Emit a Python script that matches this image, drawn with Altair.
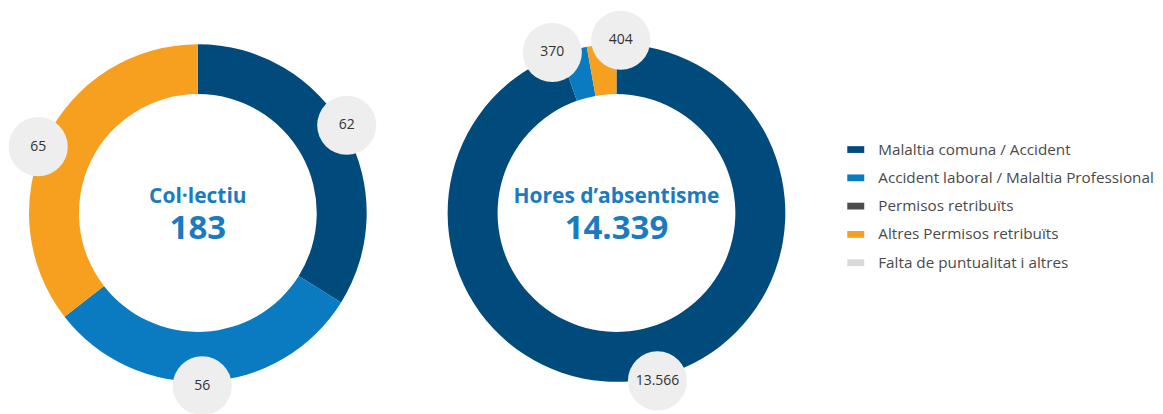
import altair as alt
import pandas as pd

# ---- data ----
categories = [
    "Malaltia comuna / Accident",
    "Accident laboral / Malaltia Professional",
    "Permisos retribuïts",
    "Altres Permisos retribuïts",
    "Falta de puntualitat i altres",
]
colors = ["#004a7c", "#0a7bc1", "#4d4d4d", "#f79f1f", "#d9d9d9"]

col_cats = ["Malaltia comuna / Accident", "Accident laboral / Malaltia Professional", "Altres Permisos retribuïts"]
col_values = [62, 56, 65]
col_labels = ["62", "56", "65"]

hores_cats = ["Malaltia comuna / Accident", "Accident laboral / Malaltia Professional", "Altres Permisos retribuïts"]
hores_values = [13566, 370, 404]
hores_labels = ["13.566", "370", "404"]

center_titles = ["Col·lectiu", "Hores d’absentisme"]
center_totals = ["183", "14.339"]

# ---- layout (pixels) ----
PANEL_W, PANEL_H = 380, 398
CX, CY = 190, 205
OUTER, INNER = 169, 119
LABEL_R = 173
# small angular nudges (degrees) so bubbles do not overlap
col_nudge = [-1.5, 1.5, -3.5]
hores_nudge = [-4.0, -7.0, 6.5]

FONT = "Open Sans"
BLUE_TXT = "#1a7bbf"


def donut(cats, values, labels, nudges, title, total):
    df = pd.DataFrame({
        "cat": cats,
        "value": values,
        "label": labels,
        "idx": list(range(len(cats))),
        "nudge": nudges,
    })
    base = alt.Chart(df)
    color = alt.Color(
        "cat:N",
        scale=alt.Scale(domain=categories, range=colors),
        title=None,
        legend=alt.Legend(
            orient="none",
            legendX=840,
            legendY=133,
            symbolType="M-1,-0.4L1,-0.4L1,0.4L-1,0.4Z",
            symbolSize=289,
            symbolStrokeWidth=0,
            labelFont=FONT,
            labelFontSize=15.3,
            labelColor="#4a4a4a",
            labelOffset=14,
            labelLimit=400,
            rowPadding=11.3,
            padding=0,
        ),
    )
    ring = base.mark_arc(outerRadius=OUTER, innerRadius=INNER, stroke=None).encode(
        theta=alt.Theta("value:Q", stack=True),
        color=color,
        order=alt.Order("idx:Q"),
        x=alt.value(CX),
        y=alt.value(CY),
    )
    pts = (
        base.transform_joinaggregate(total="sum(value)")
        .transform_window(cum="sum(value)", sort=[alt.SortField("idx")], frame=[None, 0])
        .transform_calculate(ang="(datum.cum - datum.value/2)/datum.total*2*PI + datum.nudge*PI/180")
        .transform_calculate(px=f"{LABEL_R}*sin(datum.ang)", py=f"{LABEL_R}*cos(datum.ang)")
    )
    xs = alt.X("px:Q", scale=alt.Scale(domain=[-CX, PANEL_W - CX], nice=False, zero=False), axis=None)
    ys = alt.Y("py:Q", scale=alt.Scale(domain=[CY - PANEL_H, CY], nice=False, zero=False), axis=None)
    bubbles = pts.mark_circle(size=3500, color="#eeeeee", opacity=1).encode(x=xs, y=ys)
    btext = pts.mark_text(font=FONT, fontSize=14, color="#333333").encode(x=xs, y=ys, text="label:N")

    cdf = pd.DataFrame({"title": [title], "total": [total]})
    cbase = alt.Chart(cdf)
    t1 = cbase.mark_text(font=FONT, fontSize=21, fontWeight="bold", color=BLUE_TXT, baseline="alphabetic").encode(
        text="title:N", x=alt.value(CX), y=alt.value(195)
    )
    t2 = cbase.mark_text(font=FONT, fontSize=33, fontWeight="bold", color=BLUE_TXT, baseline="alphabetic").encode(
        text="total:N", x=alt.value(CX), y=alt.value(231)
    )
    return alt.layer(ring, bubbles, btext, t1, t2).properties(width=PANEL_W, height=PANEL_H)


d1 = donut(col_cats, col_values, col_labels, col_nudge, center_titles[0], center_totals[0])
d2 = donut(hores_cats, hores_values, hores_labels, hores_nudge, center_titles[1], center_totals[1])

chart = (
    alt.hconcat(d1, d2, spacing=39)
    .properties(padding=0, background="white")
    .configure_view(stroke=None)
)

chart.save("out.html", embed_options={"renderer": "svg", "actions": False})
